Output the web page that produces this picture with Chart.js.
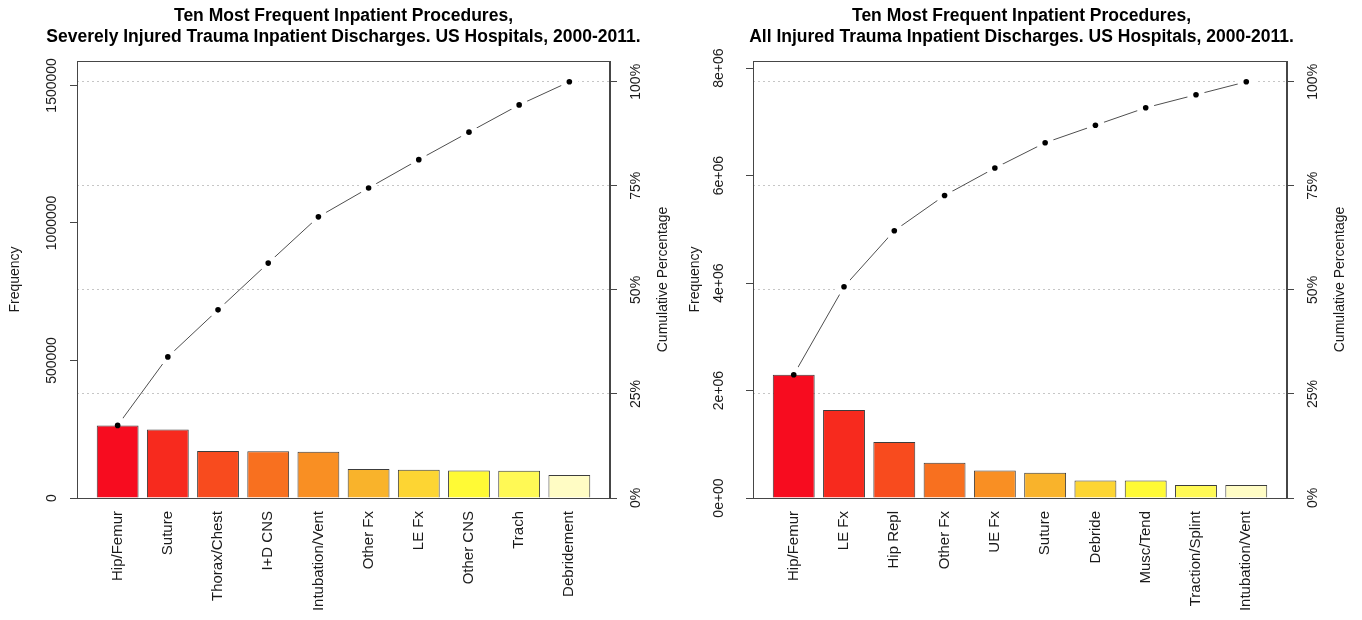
<!DOCTYPE html>
<html>
<head>
<meta charset="utf-8">
<title>Ten Most Frequent Inpatient Procedures</title>
<script src="https://cdn.jsdelivr.net/npm/chart.js@4.4.1/dist/chart.umd.min.js"></script>
<style>
  html, body { margin: 0; padding: 0; background: #ffffff; }
  #wrap { position: relative; width: 1362px; height: 620px; overflow: hidden; }
  #wrap canvas { position: absolute; top: 0; }
</style>
</head>
<body>
<div id="wrap">
  <canvas id="severe" width="681" height="620" style="left:0"></canvas>
  <canvas id="allInjured" width="681" height="620" style="left:681px"></canvas>
</div>
<script>
// Severely injured trauma inpatient discharges: procedure counts, most frequent first
const severeCategories = ['Hip/Femur', 'Suture', 'Thorax/Chest', 'I+D CNS', 'Intubation/Vent',
                          'Other Fx', 'LE Fx', 'Other CNS', 'Trach', 'Debridement'];
const severeCounts = [264000, 249000, 171000, 170000, 168000, 105000, 103000, 100000, 99000, 84000];
const severeTickValues = [0, 500000, 1000000, 1500000];
const severeTickLabels = ['0', '500000', '1000000', '1500000'];

// All injured trauma inpatient discharges
const allCategories = ['Hip/Femur', 'LE Fx', 'Hip Repl', 'Other Fx', 'UE Fx',
                       'Suture', 'Debride', 'Musc/Tend', 'Traction/Splint', 'Intubation/Vent'];
const allCounts = [2294000, 1637000, 1042000, 657000, 510000, 471000, 326000, 325000, 242000, 241000];
const allTickValues = [0, 2000000, 4000000, 6000000, 8000000];
const allTickLabels = ['0e+00', '2e+06', '4e+06', '6e+06', '8e+06'];

// Cumulative percentage axis
const pctTickValues = [0, 25, 50, 75, 100];
const pctTickLabels = ['0%', '25%', '50%', '75%', '100%'];

const severeTitle = ['Ten Most Frequent Inpatient Procedures,',
                     'Severely Injured Trauma Inpatient Discharges. US Hospitals, 2000-2011.'];
const allTitle = ['Ten Most Frequent Inpatient Procedures,',
                  'All Injured Trauma Inpatient Discharges. US Hospitals, 2000-2011.'];

// ---- styling ----
const FAMILY = "'Liberation Sans', Arial, Helvetica, sans-serif";
const TEXT = '#1a1a1a';
const AXIS = '#464646';
const GRID = '#c6c6c6';
const LINE = '#4e4e4e';
const PALETTE = ['#F70C1F', '#F72A1E', '#F84B1E', '#F8701F', '#F98F23',
                 '#F9B32B', '#FDD533', '#FFFA35', '#FFF955', '#FFFCC4'];

Chart.defaults.font.family = FAMILY;
Chart.defaults.font.size = 14;
Chart.defaults.color = TEXT;

const measureCtx = document.createElement('canvas').getContext('2d');
function widestLabel(labels, size) {
  measureCtx.font = size + 'px ' + FAMILY;
  return Math.max(...labels.map(t => measureCtx.measureText(t).width));
}

// Plot frame (box around the plotting region)
const framePlugin = {
  id: 'frame',
  afterDraw(chart) {
    const a = chart.chartArea, ctx = chart.ctx;
    ctx.save();
    ctx.strokeStyle = AXIS;
    ctx.lineWidth = 1;
    ctx.strokeRect(Math.round(a.left) + 0.5, Math.round(a.top) + 0.5,
                   Math.round(a.right - a.left) - 1, Math.round(a.bottom - a.top));
    ctx.restore();
  }
};

// Right-hand axis title, reading bottom to top
const sideTitlePlugin = {
  id: 'sideTitle',
  afterDraw(chart, args, opts) {
    const a = chart.chartArea, ctx = chart.ctx;
    ctx.save();
    ctx.translate(opts.x, (a.top + a.bottom) / 2);
    ctx.rotate(-Math.PI / 2);
    ctx.font = '14px ' + FAMILY;
    ctx.fillStyle = TEXT;
    ctx.textAlign = 'center';
    ctx.textBaseline = 'middle';
    ctx.fillText(opts.text, 0, 0);
    ctx.restore();
  }
};

function paretoChart(canvasId, spec) {
  const W = 681, H = 620;
  const n = spec.categories.length;
  // barplot units: bars of width 1 separated by 0.2
  const centre = i => 0.7 + 1.2 * i;
  const lo = 0.2, hi = 1.2 * n, ext = 0.04 * (hi - lo);

  const total = spec.counts.reduce((a, b) => a + b, 0);
  let running = 0;
  const cumulative = spec.counts.map(v => { running += v; return 100 * running / total; });
  const barPoints = spec.counts.map((v, i) => ({ x: centre(i), y: v }));
  const cumPoints = cumulative.map((p, i) => ({ x: centre(i), y: p }));

  const tickSize = 14, tickLen = 7;
  const leftPad = spec.plotLeft - tickLen - spec.leftLabelX - widestLabel(spec.tickLabels, tickSize) / 2;
  const rightPad = spec.rightLabelX - spec.plotRight - tickLen - widestLabel(pctTickLabels, tickSize) / 2;
  const yTitlePad = spec.yTitleX - spec.padLeft - (14 * 1.2) / 2;

  return new Chart(document.getElementById(canvasId), {
    type: 'bar',
    data: {
      datasets: [
        { // cumulative line; white discs open small gaps around each point
          type: 'line', data: cumPoints, xAxisID: 'x', yAxisID: 'pct',
          borderColor: LINE, borderWidth: 1, tension: 0,
          pointRadius: 9, pointStyle: 'circle', pointBackgroundColor: '#ffffff',
          pointBorderWidth: 0, pointBorderColor: '#ffffff', order: 3
        },
        {
          type: 'bar', data: barPoints, xAxisID: 'x', yAxisID: 'y',
          backgroundColor: PALETTE, borderColor: '#3c3c3c', borderWidth: 1,
          categoryPercentage: 1, barPercentage: 1 / 1.2, order: 2
        },
        { // cumulative points
          type: 'line', data: cumPoints, xAxisID: 'x', yAxisID: 'pct',
          showLine: false, pointRadius: 2.8, pointBackgroundColor: '#000000',
          pointBorderWidth: 0, order: 1
        }
      ]
    },
    options: {
      responsive: false,
      animation: false,
      events: [],
      devicePixelRatio: 1,
      layout: { padding: { left: spec.padLeft, right: 0, top: 0, bottom: 0 } },
      plugins: {
        legend: { display: false },
        tooltip: { enabled: false },
        title: {
          display: true, text: spec.title, color: '#000000',
          font: { size: 17.5, weight: 'bold', lineHeight: 1.2 },
          padding: { top: 6, bottom: 13 }
        },
        sideTitle: { text: 'Cumulative Percentage', x: spec.sideTitleX }
      },
      scales: {
        x: {
          type: 'linear', position: 'bottom', min: lo - ext, max: hi + ext, offset: false,
          afterBuildTicks: s => { s.ticks = spec.categories.map((c, i) => ({ value: centre(i) })); },
          afterFit: s => { s.height = H - spec.plotBottom; },
          grid: { display: false, drawTicks: false },
          border: { display: false },
          ticks: {
            autoSkip: false, minRotation: 90, maxRotation: 90, padding: 13,
            font: { size: 15 }, color: TEXT,
            callback: (v, i) => spec.categories[i]
          }
        },
        y: {
          type: 'linear', position: 'left', min: 0, max: 1.05 * total,
          afterBuildTicks: s => { s.ticks = spec.tickValues.map(v => ({ value: v })); },
          afterFit: s => { s.width = spec.plotLeft - spec.padLeft; },
          grid: { drawOnChartArea: false, drawTicks: true, tickLength: tickLen, color: AXIS, tickColor: AXIS },
          border: { display: true, color: AXIS, width: 1 },
          ticks: {
            autoSkip: false, minRotation: 90, maxRotation: 90, crossAlign: 'center',
            padding: leftPad, font: { size: tickSize }, color: TEXT,
            callback: (v, i) => spec.tickLabels[i]
          },
          title: {
            display: true, text: 'Frequency', color: TEXT,
            font: { size: 14, lineHeight: 1.2 }, padding: { top: yTitlePad, bottom: 0 }
          }
        },
        pct: {
          type: 'linear', position: 'right', min: 0, max: 105,
          afterBuildTicks: s => { s.ticks = pctTickValues.map(v => ({ value: v })); },
          afterFit: s => { s.width = W - spec.plotRight; },
          grid: {
            drawOnChartArea: true, drawTicks: true, tickLength: tickLen, lineWidth: 1,
            color: c => (c.tick && c.tick.value === 0) ? 'rgba(0,0,0,0)' : GRID,
            tickColor: AXIS, tickBorderDash: []
          },
          border: { display: true, color: AXIS, width: 1, dash: [2, 3] },
          ticks: {
            autoSkip: false, minRotation: 90, maxRotation: 90, crossAlign: 'center',
            padding: rightPad, font: { size: tickSize }, color: TEXT,
            callback: (v, i) => pctTickLabels[i]
          }
        }
      }
    },
    plugins: [framePlugin, sideTitlePlugin]
  });
}

paretoChart('severe', {
  title: severeTitle,
  categories: severeCategories, counts: severeCounts,
  tickValues: severeTickValues, tickLabels: severeTickLabels,
  padLeft: 6, plotLeft: 77, plotRight: 610, plotBottom: 498,
  leftLabelX: 51.7, rightLabelX: 636, yTitleX: 15, sideTitleX: 663
});

paretoChart('allInjured', {
  title: allTitle,
  categories: allCategories, counts: allCounts,
  tickValues: allTickValues, tickLabels: allTickLabels,
  padLeft: 0, plotLeft: 72, plotRight: 606, plotBottom: 498,
  leftLabelX: 38, rightLabelX: 632.3, yTitleX: 14.3, sideTitleX: 659
});
</script>
</body>
</html>
